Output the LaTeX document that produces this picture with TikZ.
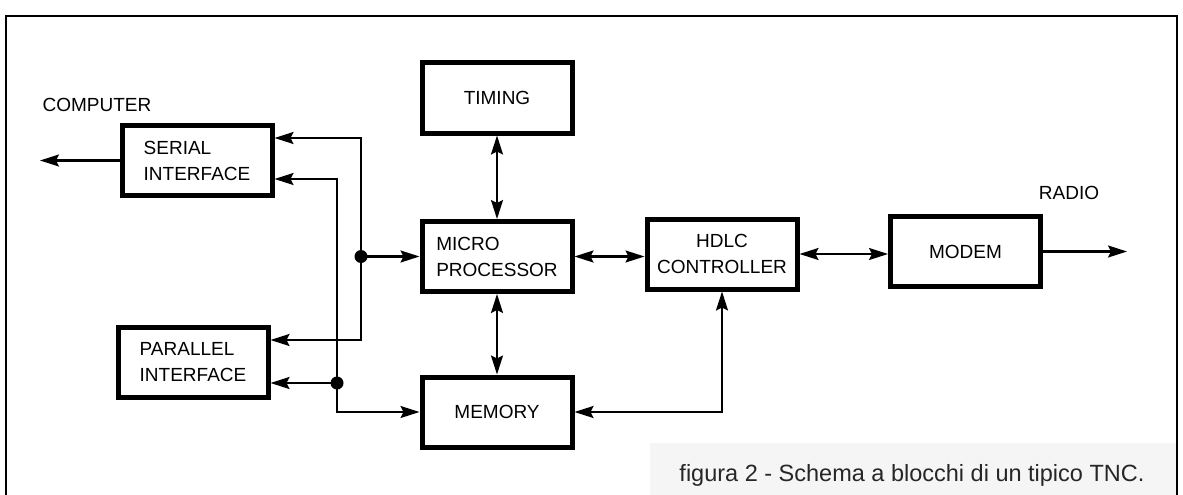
\documentclass[tikz,border=0pt]{standalone}
\usepackage{fontspec}
\setmainfont{Liberation Sans}
\usetikzlibrary{arrows.meta}

\begin{document}
\begin{tikzpicture}[x=1pt, y=-1pt, >={Stealth[length=19pt, width=12pt, inset=3pt]},
		blk/.style={draw, line width=5pt, minimum width=150pt, minimum height=70pt,
				align=left, font=\fontsize{19}{26}\selectfont},
		lbl/.style={font=\fontsize{19}{22}\selectfont},
		wire/.style={line width=2.1pt},
		dot/.style={circle, fill, inner sep=0pt, minimum size=13pt}]

		\useasboundingbox (0,0) rectangle (1183,495);

		% Frame and caption band
		\fill[black!4] (650,443) rectangle (1176,495);
		\draw[line width=1.8pt] (6,498) -- (6,16) -- (1177,16) -- (1177,498);
		\node[anchor=base east, font=\fontsize{23.5}{28}\selectfont, text=black!85] (cap)
			at (1148,481) {figura 2 - Schema a blocchi di un tipico TNC.};

		% Blocks
		\node[blk] (ser) at (197,160.5) {SERIAL\\INTERFACE};
		\node[blk] (par) at (193,362.5) {PARALLEL\\INTERFACE};
		\node[blk] (tim) at (497,98) {TIMING};
		\node[blk] (mpu) at (497,256.5) {MICRO\\PROCESSOR};
		\node[blk] (mem) at (497,412) {MEMORY};
		\node[blk, align=center] (hdlc) at (722,254) {HDLC\\CONTROLLER};
		\node[blk] (mod) at (965.5,251.5) {MODEM};

		% Outside labels
		\node[lbl] (comp) at (97,104.5) {COMPUTER};
		\node[lbl] (radio) at (1069,193) {RADIO};

		% Junctions and free ends
		\node[dot] (d1) at (361,256.5) {};
		\node[dot] (d2) at (337,383) {};
		\coordinate (pc) at (40,160.5);
		\coordinate (rf) at (1127,251.5);

		% --- Connecting Lines ---

		% to computer and radio
		\draw[wire,->] (ser.west) -- (pc);
		\draw[wire,->] (mod.east) -- (rf);

		% main data path
		\draw[wire,<->] (tim) -- (mpu);
		\draw[wire,<->] (mpu) -- (mem);
		\draw[wire,<->] (mpu.east) -- (mpu.east -| hdlc.west);
		\draw[wire,<->] (hdlc.east) -- (hdlc.east -| mod.west);
		\draw[wire,<->] (mem.east) -| (hdlc.south);

		% First bus: processor to both interfaces
		\draw[wire,->] (d1.center) -- (mpu.west);
		\draw[wire,->] (d1.center) |- ([yshift=22.5pt]ser.east);
		\draw[wire,->] (d1.center) |- ([yshift=22.5pt]par.east);

		% Second bus: memory to both interfaces
		\draw[wire,->] (d2.center) -- (d2.center -| par.east);
		\draw[wire,->] (d2.center) |- ([yshift=-18.5pt]ser.east);
		\draw[wire,->] (d2.center) |- (mem.west);

	\end{tikzpicture}
\end{document}
